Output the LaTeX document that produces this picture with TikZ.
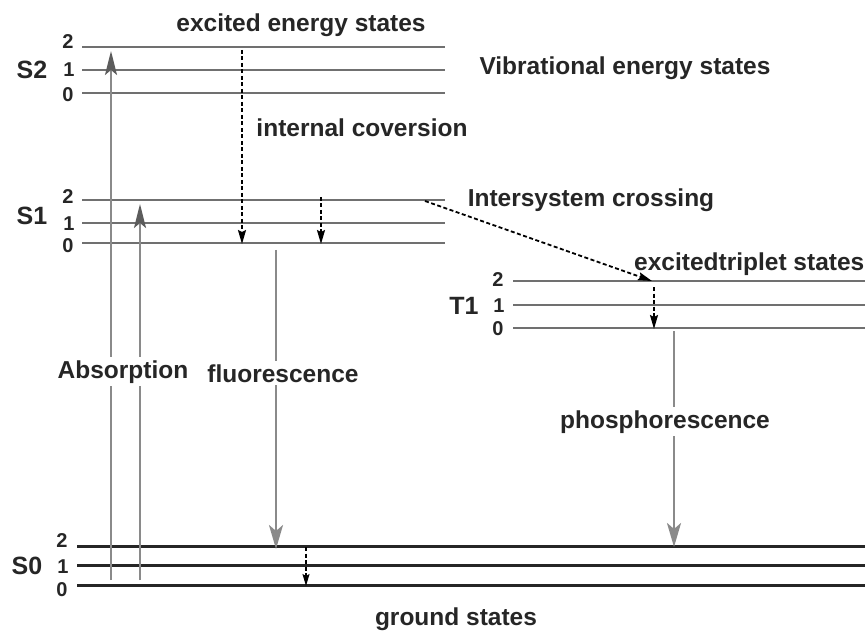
\documentclass[tikz,border=0pt]{standalone}
\usepackage{fontspec}
\setmainfont{Liberation Sans}
\usetikzlibrary{arrows.meta}
\definecolor{lev}{HTML}{707070}
\definecolor{txt}{HTML}{262626}
\definecolor{rad}{HTML}{8A8A8A}
\definecolor{radhead}{HTML}{5C5C5C}
\begin{document}
\begin{tikzpicture}[x=1pt,y=-1pt,
  level/.style={draw=lev,line width=1.8pt},
  ground/.style={draw=black!85,line width=3pt},
  lab/.style={font=\fontsize{24.5}{26}\selectfont\bfseries,text=txt,inner sep=1pt,anchor=base},
  num/.style={font=\fontsize{20}{22}\selectfont\bfseries,text=txt,inner sep=0pt},
  stname/.style={font=\fontsize{25}{26}\selectfont\bfseries,text=txt,inner sep=0pt},
  gap/.style={lab,fill=white,inner sep=3pt},
  radarrow/.style={draw=rad,line width=2.2pt,-{Stealth[length=24pt,width=12pt,inset=5pt,color=radhead]}},
  flarrow/.style={draw=rad,line width=2.6pt,-{Stealth[length=24pt,width=14pt,inset=6pt]}},
  nonrad/.style={draw=black,line width=1.8pt,dash pattern=on 4pt off 2.5pt,-{Stealth[length=14pt,width=8pt,inset=2pt]}}]
\useasboundingbox (0,0) rectangle (865,631);
% ---- level lines
\foreach \y in {47,70,93}{\draw[level] (82,\y) -- (445,\y);}
\foreach \y in {200,223,243}{\draw[level] (82,\y) -- (445,\y);}
\foreach \y in {281,305,328}{\draw[level] (513,\y) -- (865,\y);}
\foreach \y in {546,565,585}{\draw[ground] (77,\y) -- (865,\y);}
% ---- state names and vibrational numbers
\node[stname] (S2) at (32,70) {S2};
\node[num] (s2a) at (68,42) {2};
\node[num] (s2b) at (69,70) {1};
\node[num] (s2c) at (68,95) {0};
\node[stname] (S1) at (32,216) {S1};
\node[num] (s1a) at (68,197) {2};
\node[num] (s1b) at (69,224) {1};
\node[num] (s1c) at (68,246) {0};
\node[stname] (T1) at (464,306) {T1};
\node[num] (t1a) at (498,280) {2};
\node[num] (t1b) at (499,306) {1};
\node[num] (t1c) at (498,329) {0};
\node[stname] (S0) at (27,566) {S0};
\node[num] (s0a) at (62,541) {2};
\node[num] (s0b) at (63,567) {1};
\node[num] (s0c) at (62,590) {0};
% ---- coordinates for transitions
\coordinate (abs1s) at (111,580); \coordinate (abs1e) at (111,51);
\coordinate (abs2s) at (140,580); \coordinate (abs2e) at (140,204);
\coordinate (icS) at (242,50);    \coordinate (icE) at (242,244);
\coordinate (vr1S) at (321,197);  \coordinate (vr1E) at (321,244);
\coordinate (iscS) at (425,201);  \coordinate (iscE) at (652,281);
\coordinate (vr2S) at (654,287);  \coordinate (vr2E) at (654,329);
\coordinate (flS) at (276,250);   \coordinate (flE) at (276,549);
\coordinate (phS) at (674,331);   \coordinate (phE) at (674,547);
\coordinate (vr3S) at (306,547);  \coordinate (vr3E) at (306,586);
% ---- radiative transitions
\draw[radarrow] (abs1s) -- (abs1e);
\draw[radarrow] (abs2s) -- (abs2e);
\draw[flarrow] (flS) -- (flE);
\draw[flarrow] (phS) -- (phE);
% ---- non-radiative
\draw[nonrad] (icS) -- (icE);
\draw[nonrad] (vr1S) -- (vr1E);
\draw[nonrad] (iscS) -- (iscE);
\draw[nonrad] (vr2S) -- (vr2E);
\draw[nonrad,-{Stealth[length=12pt,width=7pt,inset=2pt]},line width=1.4pt] (vr3S) -- (vr3E);
% ---- labels
\node[lab] (exc) at (301,32) {excited energy states};
\node[lab] (vib) at (625,75) {Vibrational energy states};
\node[lab] (ic) at (362,137) {internal coversion};
\node[lab] (isc) at (591,207) {Intersystem crossing};
\node[lab,anchor=base west] (trip) at (633,270) {excitedtriplet states};
\node[gap] (absl) at (123,378) {Absorption};
\node[gap] (fll) at (283,382) {fluorescence};
\node[gap] (phl) at (665,428) {phosphorescence};
\node[lab] (gnd) at (456,625) {ground states};
\end{tikzpicture}
\end{document}
